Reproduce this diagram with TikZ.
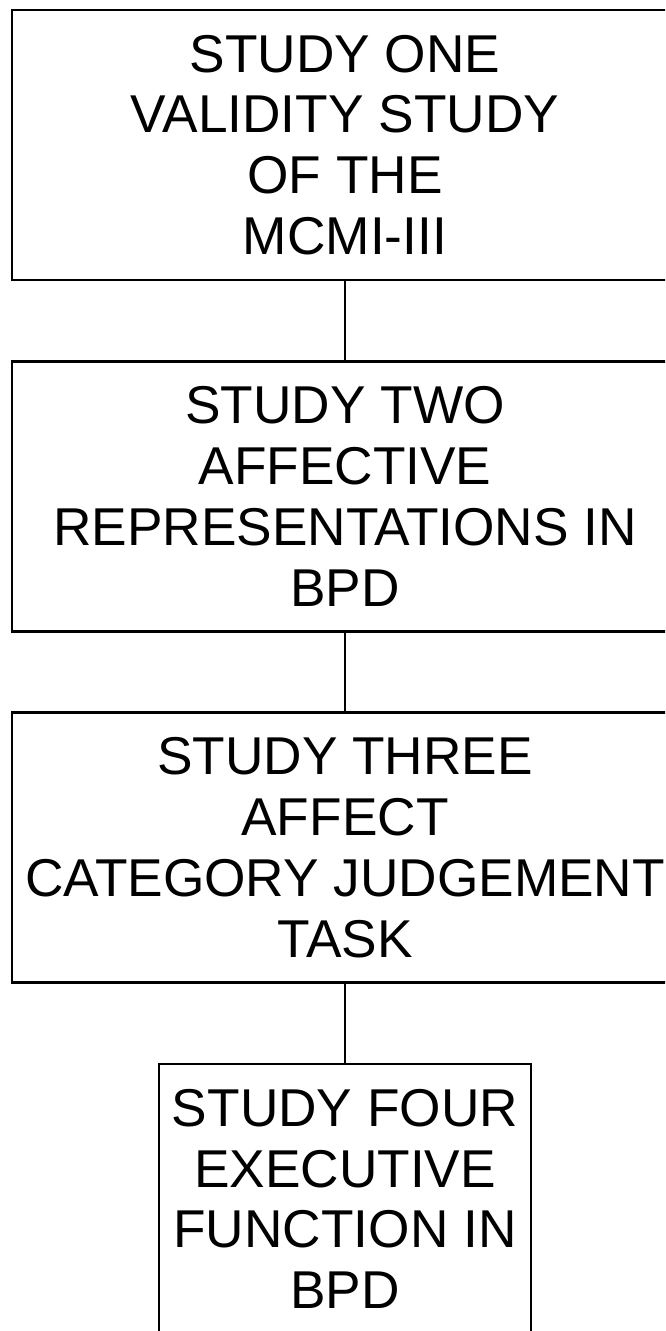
\documentclass[tikz,border=0pt]{standalone}
\usepackage{fontspec}
\setmainfont{Liberation Sans}
\usetikzlibrary{positioning}

\begin{document}
\begin{tikzpicture}[
            node distance=1.57cm, % Gap between the study boxes
            study/.style={rectangle, draw, line width=1.6pt, minimum width=13.32cm, minimum height=5.4cm,
                align=center, inner sep=0pt, font=\fontsize{30.3}{34.6}\selectfont}, % Wide box
            narrow/.style={study, minimum width=7.44cm}, % Last, narrower box
            link/.style={draw, line width=1.5pt} % Plain connector
            ]

                % Page frame: the boxes run past its right and bottom edges
                \path[use as bounding box, clip] (0,0) rectangle (13.3,-26.62);

                \node[study] (one) at (6.9,-2.9) {STUDY ONE\\VALIDITY STUDY\\OF THE\\MCMI-III};
                \node[study, below=of one] (two) {STUDY TWO\\AFFECTIVE\\REPRESENTATIONS IN\\BPD};
                \node[study, below=of two] (three) {STUDY THREE\\AFFECT\\CATEGORY JUDGEMENT\\TASK};
                \node[narrow, below=of three] (four) {STUDY FOUR\\EXECUTIVE\\FUNCTION IN\\BPD};

                \path[link] (one) -- (two);
                \path[link] (two) -- (three);
                \path[link] (three) -- (four);

            \end{tikzpicture}
\end{document}
